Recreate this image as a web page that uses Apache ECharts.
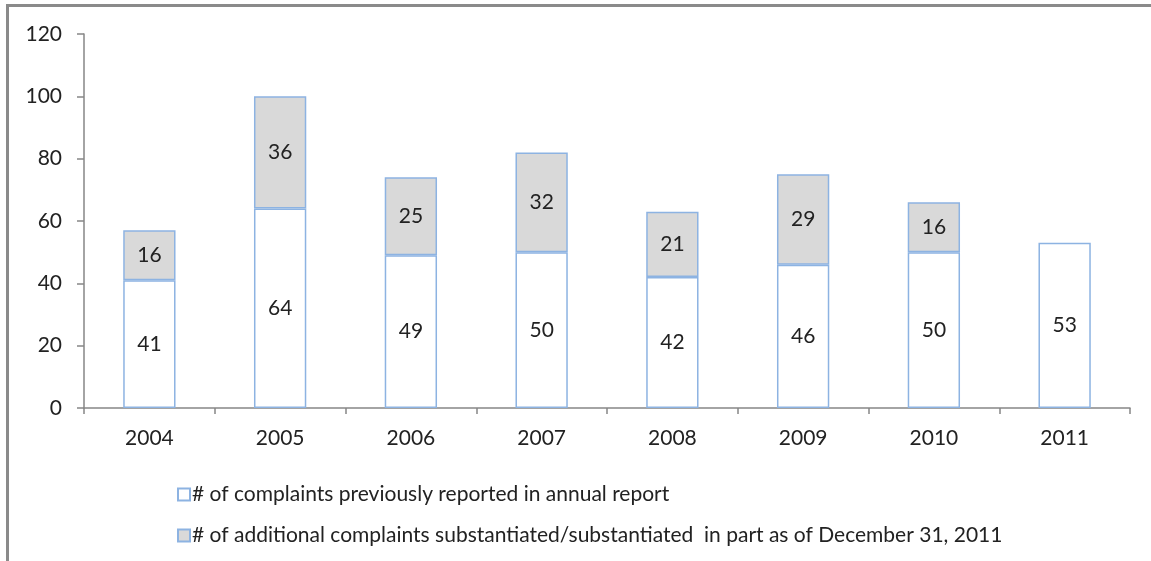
<!DOCTYPE html>
<html>
<head>
<meta charset="utf-8">
<script src="https://cdn.jsdelivr.net/npm/echarts@6/dist/echarts.min.js"></script>
<style>
  html, body { margin: 0; padding: 0; background: #fff; }
  #frame {
    position: absolute; left: 6px; top: 4px; right: 0; bottom: 0;
    border-left: 3px solid #8a8a8a; border-top: 3px solid #8a8a8a;
  }
  #chart { position: absolute; left: 0; top: 0; width: 1151px; height: 561px; }
</style>
</head>
<body>
<div id="frame"></div>
<div id="chart"></div>
<script>
// Complaints per year: count already in the annual report, plus those substantiated later
const years = ['2004', '2005', '2006', '2007', '2008', '2009', '2010', '2011'];
const previouslyReported = [41, 64, 49, 50, 42, 46, 50, 53];
const additionalSubstantiated = [16, 36, 25, 32, 21, 29, 16, null];
const yTicks = { min: 0, max: 120, interval: 20 };

const seriesNames = [
  '# of complaints previously reported in annual report',
  '# of additional complaints substantiated/substantiated  in part as of December 31, 2011'
];

const FONT = 'Lato, "Open Sans", sans-serif';
const barBorder = '#8db3e2';

const chart = echarts.init(document.getElementById('chart'));
chart.setOption({
  animation: false,
  backgroundColor: 'transparent',
  textStyle: { fontFamily: FONT },
  grid: { left: 84, right: 21, top: 34, bottom: 153 },
  legend: {
    orient: 'vertical',
    left: 172,
    top: 479,
    itemGap: 20,
    itemWidth: 12,
    itemHeight: 12,
    icon: 'rect',
    textStyle: { fontFamily: FONT, fontSize: 21, color: '#222', padding: [0, 0, 0, -3] },
    data: seriesNames
  },
  xAxis: {
    type: 'category',
    data: years,
    axisLine: { lineStyle: { color: '#868686', width: 1.5 } },
    axisTick: { show: true, length: 6, lineStyle: { color: '#868686', width: 1.5 } },
    axisLabel: { fontSize: 21, color: '#222', margin: 20 }
  },
  yAxis: {
    type: 'value',
    min: yTicks.min,
    max: yTicks.max,
    interval: yTicks.interval,
    splitLine: { show: false },
    axisLine: { show: true, lineStyle: { color: '#868686', width: 1.5 } },
    axisTick: { show: true, length: 7, lineStyle: { color: '#868686', width: 1.5 } },
    axisLabel: { fontSize: 21, color: '#222', margin: 22 }
  },
  series: [
    {
      name: seriesNames[0],
      type: 'bar',
      stack: 'total',
      barWidth: '40%',
      data: previouslyReported,
      itemStyle: { color: '#ffffff', borderColor: barBorder, borderWidth: 1.5 },
      label: { show: true, position: 'inside', fontSize: 21, color: '#222', fontFamily: FONT }
    },
    {
      name: seriesNames[1],
      type: 'bar',
      stack: 'total',
      barWidth: '40%',
      data: additionalSubstantiated,
      itemStyle: { color: '#d9d9d9', borderColor: barBorder, borderWidth: 1.5 },
      label: { show: true, position: 'inside', fontSize: 21, color: '#222', fontFamily: FONT }
    }
  ]
});
</script>
</body>
</html>
